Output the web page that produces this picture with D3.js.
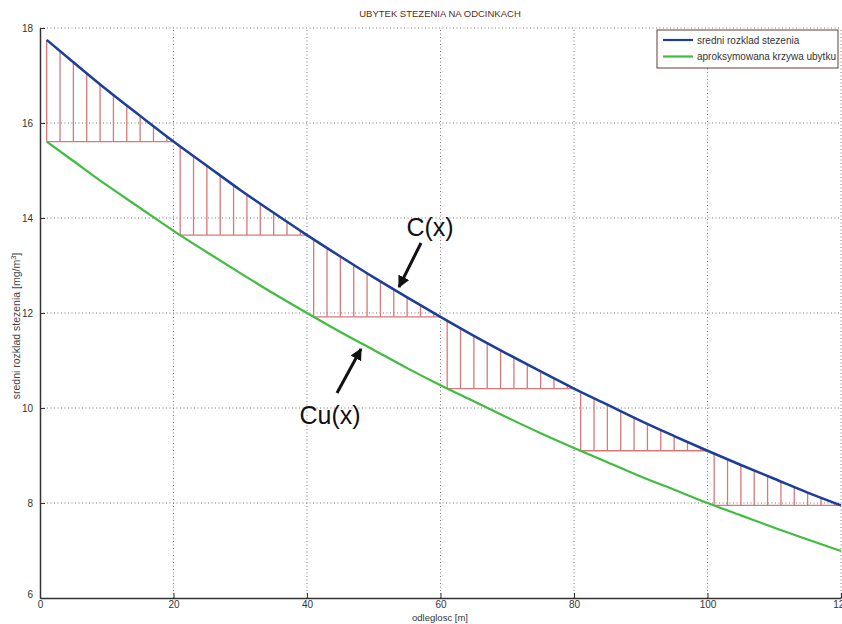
<!DOCTYPE html>
<html><head><meta charset="utf-8">
<script src="https://cdn.jsdelivr.net/npm/d3@7"></script>
<style>body{margin:0;background:#fff}svg{display:block}text{font-family:"Liberation Sans",Arial,sans-serif}</style>
</head><body>
<svg id="c" width="842" height="624"></svg>
<script>
// Data
const xs      = [1,5,10,15,20,25,30,35,40,45,50,55,60,65,70,75,80,85,90,95,100,105,110,115,120];
const cMean   = [17.75,17.28,16.70,16.15,15.61,15.10,14.59,14.11,13.64,13.19,12.75,12.33,11.92,11.52,11.14,10.77,10.41,10.07,9.73,9.41,9.10,8.80,8.51,8.22,7.95];
const cApprox = [15.61,15.20,14.69,14.21,13.73,13.28,12.84,12.41,12.00,11.60,11.22,10.84,10.48,10.14,9.80,9.47,9.16,8.86,8.56,8.28,8.00,7.74,7.48,7.23,6.99];
const segStart = [1,21,41,61,81,101];
const segEnd   = [20,40,60,80,100,120];
const segBase  = [15.61,13.64,11.92,10.41,9.10,7.95];
const hatchStep = 2;
const xTicks = [0,20,40,60,80,100,120];
const yTicks = [6,8,10,12,14,16,18];
const seriesNames = ["sredni rozklad stezenia","aproksymowana krzywa ubytku"];

const svg = d3.select("#c");
const x = d3.scaleLinear().domain([0,120]).range([40,841]);
const y = d3.scaleLinear().domain([6,18]).range([598,28]);

// grid
const g = svg.append("g");
g.selectAll(".gx").data(xTicks.slice(1)).join("line")
  .attr("x1",d=>x(d)).attr("x2",d=>x(d)).attr("y1",y(6)).attr("y2",y(18))
  .attr("stroke","#777").attr("stroke-width",1).attr("stroke-dasharray","1,2.5");
g.selectAll(".gy").data(yTicks.slice(1)).join("line")
  .attr("x1",x(0)).attr("x2",x(120)).attr("y1",d=>y(d)).attr("y2",d=>y(d))
  .attr("stroke","#777").attr("stroke-width",1).attr("stroke-dasharray","1,2.5");

// interpolate along drawn line
function lineAt(arrX, arrY, v){
  const i = Math.max(1, d3.bisectLeft(arrX, v));
  const x0=arrX[i-1], x1=arrX[i], y0=arrY[i-1], y1=arrY[i];
  return y0 + (y1-y0)*(v-x0)/(x1-x0);
}

// hatching
const hatch = svg.append("g").attr("stroke","#d87878").attr("stroke-width",1.3).attr("fill","none");
segStart.forEach((s,k)=>{
  hatch.append("line").attr("x1",x(s)).attr("x2",x(segEnd[k]))
    .attr("y1",y(segBase[k])).attr("y2",y(segBase[k]));
  for(let v=s; v<segEnd[k]; v+=hatchStep){
    hatch.append("line").attr("x1",x(v)).attr("x2",x(v))
      .attr("y1",y(segBase[k])).attr("y2",y(lineAt(xs,cMean,v)));
  }
});

// lines
const line = d3.line().x(d=>x(d[0])).y(d=>y(d[1])).curve(d3.curveMonotoneX);
svg.append("path").datum(xs.map((v,i)=>[v,cApprox[i]])).attr("d",line)
  .attr("fill","none").attr("stroke","#40bd40").attr("stroke-width",2.2);
svg.append("path").datum(xs.map((v,i)=>[v,cMean[i]])).attr("d",line)
  .attr("fill","none").attr("stroke","#1c3d9a").attr("stroke-width",2.5);

// axes
const ax = svg.append("g").attr("transform",`translate(0,${y(6)})`)
  .call(d3.axisBottom(x).tickValues(xTicks).tickSizeInner(-5).tickSizeOuter(0).tickPadding(3));
const ay = svg.append("g").attr("transform",`translate(${x(0)},0)`)
  .call(d3.axisLeft(y).tickValues(yTicks).tickSizeInner(-5).tickSizeOuter(0).tickPadding(7));
[ax,ay].forEach(a=>{
  a.select(".domain").attr("stroke","#333").attr("stroke-width",1.5);
  a.selectAll(".tick line").attr("stroke","#333");
  a.selectAll("text").attr("font-size",10).attr("fill","#333")
    .attr("font-family","'Liberation Sans',Arial,sans-serif");
});
ay.selectAll(".tick").filter(d=>d===6).select("text").attr("dy","-0.1em");

// titles
svg.append("text").attr("x",440).attr("y",17).attr("text-anchor","middle")
  .attr("font-size",9.5).attr("fill","#5a2a22").text("UBYTEK STEZENIA NA ODCINKACH");
svg.append("text").attr("x",440).attr("y",621).attr("text-anchor","middle")
  .attr("font-size",9.5).attr("fill","#333").text("odleglosc [m]");
const yl = svg.append("text").attr("transform","translate(20,326) rotate(-90)")
  .attr("text-anchor","middle").attr("font-size",10.5).attr("fill","#444");
yl.append("tspan").text("sredni rozklad stezenia [mg/m");
yl.append("tspan").attr("dy",-4).attr("font-size",7.5).text("3");
yl.append("tspan").attr("dy",4).text("]");

// legend
const lg = svg.append("g");
lg.append("rect").attr("x",657).attr("y",30).attr("width",181).attr("height",38)
  .attr("fill","#fff").attr("stroke","#6b3a30").attr("stroke-width",1);
const lcol = ["#1c3d9a","#40bd40"];
seriesNames.forEach((n,i)=>{
  const yy = 40 + i*16.5;
  lg.append("line").attr("x1",663).attr("x2",693).attr("y1",yy).attr("y2",yy)
    .attr("stroke",lcol[i]).attr("stroke-width",2.2);
  lg.append("text").attr("x",697).attr("y",yy+3.5).attr("font-size",10).attr("fill","#333").text(n);
});

// annotations
svg.append("defs").append("marker").attr("id","ah").attr("viewBox","0 0 10 10")
  .attr("refX",9).attr("refY",5).attr("markerWidth",4).attr("markerHeight",4).attr("orient","auto")
  .append("path").attr("d","M0,0 L10,5 L0,10 Z").attr("fill","#111");
svg.append("text").attr("x",430).attr("y",236).attr("text-anchor","middle")
  .attr("font-size",25).attr("fill","#111").text("C(x)");
svg.append("line").attr("x1",421).attr("y1",243).attr("x2",399).attr("y2",287)
  .attr("stroke","#111").attr("stroke-width",3).attr("marker-end","url(#ah)");
svg.append("text").attr("x",330).attr("y",424).attr("text-anchor","middle")
  .attr("font-size",25).attr("fill","#111").text("Cu(x)");
svg.append("line").attr("x1",337).attr("y1",393).attr("x2",361).attr("y2",349)
  .attr("stroke","#111").attr("stroke-width",3).attr("marker-end","url(#ah)");
</script>
</body></html>
